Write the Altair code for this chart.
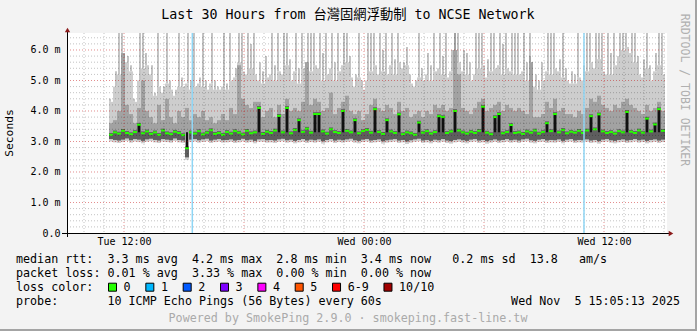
import altair as alt
import pandas as pd

FONT = "DejaVu Sans Mono"
FONT_CJK = "DejaVu Sans Mono, Noto Sans CJK TC"
NB = "\u00a0"

# ---- time axis (hours since Tue 00:00) ----
x_start, x_end = 9.15, 39.15
bin_start = 11.25
bin_step = 0.2

# ---- per-bin smoke values (ms) ----
med_ms = [3.22, 3.30, 3.26, 3.35, 3.28, 3.24, 3.31, 3.55, 3.27, 3.33,
          3.25, 3.30, 3.22, 3.36, 3.27, 3.24, 3.32, 3.28, 3.21, 2.78,
          3.30, 3.26, 3.34, 3.23, 3.29, 3.37, 3.25, 3.28, 3.22, 3.31,
          3.26, 3.34, 3.29, 3.23, 3.35, 3.27, 3.30, 4.10, 3.25, 3.32,
          3.28, 3.36, 3.84, 3.30, 4.10, 3.27, 3.38, 3.70, 3.31, 3.42,
          3.29, 3.90, 3.90, 3.33, 3.26, 3.40, 3.31, 3.28, 4.00, 3.35,
          3.30, 3.70, 3.27, 3.34, 3.38, 3.29, 4.06, 3.31, 3.25, 3.70,
          3.33, 3.28, 3.89, 3.24, 3.30, 3.27, 3.22, 3.62, 3.29, 3.34,
          3.26, 3.31, 3.83, 3.80, 3.28, 3.33, 4.00, 3.36, 3.30, 3.26,
          3.32, 3.28, 3.35, 4.14, 3.29, 3.24, 3.80, 3.90, 3.27, 3.31,
          3.54, 3.28, 3.30, 3.25, 3.33, 3.29, 3.36, 3.26, 3.31, 3.60,
          3.34, 3.90, 3.30, 3.38, 3.27, 3.32, 3.29, 3.35, 3.28, 3.36,
          3.83, 3.40, 3.89, 3.33, 3.28, 3.31, 3.26, 3.34, 3.30, 3.97,
          3.32, 3.28, 3.36, 3.29, 3.75, 3.33, 3.56, 4.06, 3.35]

lo_ms = [3.00, 2.97, 2.95, 2.98, 3.02, 2.96, 3.00, 2.98, 2.94, 2.99,
         3.01, 2.97, 2.95, 3.00, 2.98, 2.96, 3.02, 2.97, 2.95, 2.40,
         2.98, 3.00, 2.96, 2.99, 3.01, 2.95, 2.98, 3.00, 2.96, 2.97,
         2.99, 2.95, 2.97, 3.01, 2.96, 2.98, 2.94, 2.99, 3.00, 2.96,
         2.97, 2.95, 2.99, 3.01, 2.96, 2.98, 2.94, 2.97, 3.00, 2.95,
         2.98, 2.96, 2.99, 2.93, 2.97, 3.00, 2.95, 2.98, 2.96, 2.99,
         3.01, 2.96, 2.94, 2.98, 3.00, 2.95, 2.97, 2.99, 2.93, 2.96,
         2.98, 3.00, 2.95, 2.97, 2.92, 2.96, 2.99, 3.01, 2.95, 2.97,
         2.94, 2.98, 2.96, 3.00, 2.95, 2.93, 2.97, 2.99, 2.96, 2.94,
         2.98, 3.00, 2.95, 2.97, 2.93, 2.96, 2.99, 2.95, 2.97, 3.00,
         2.96, 2.98, 2.95, 2.99, 3.01, 2.96, 2.94, 2.98, 3.00, 2.95,
         2.97, 2.96, 2.99, 2.94, 2.98, 3.00, 2.95, 2.97, 2.96, 2.99,
         2.95, 2.97, 2.93, 2.98, 3.00, 2.96, 2.94, 2.97, 2.99, 2.95,
         2.97, 3.00, 2.96, 2.98, 2.94, 2.97, 2.99, 2.95, 2.98]

mid_ms = [3.6, 3.7, 4.0, 5.9, 4.2, 3.9, 3.6, 4.1, 5.0, 4.0,
          3.8, 3.6, 4.2, 3.7, 4.4, 3.8, 3.6, 4.0, 3.8, 4.1,
          3.7, 3.9, 3.8, 4.0, 3.7, 3.8, 3.6, 3.7, 3.9, 3.7,
          4.1, 3.9, 5.5, 4.4, 4.2, 4.1, 4.3, 4.3, 3.8, 4.0,
          4.1, 3.8, 4.2, 3.9, 4.4, 4.0, 4.1, 4.0, 4.3, 5.6,
          4.2, 4.4, 4.3, 4.0, 4.1, 4.6, 3.9, 4.1, 4.3, 4.5,
          4.0, 3.9, 4.0, 3.7, 3.9, 4.2, 4.4, 4.1, 4.0, 4.2,
          4.1, 3.9, 4.3, 4.0, 4.1, 3.8, 3.9, 4.0, 3.8, 4.0,
          3.9, 4.2, 4.1, 4.2, 4.0, 4.1, 6.6, 5.2, 4.1, 4.0,
          3.9, 4.1, 4.3, 4.4, 4.0, 4.1, 4.2, 4.3, 4.0, 4.2,
          4.1, 4.0, 4.1, 4.0, 3.9, 5.8, 3.8, 3.8, 3.9, 4.3,
          4.1, 4.4, 4.0, 4.1, 3.9, 3.9, 3.8, 4.0, 3.9, 4.1,
          4.4, 4.3, 4.5, 4.2, 4.1, 4.0, 4.2, 4.1, 4.3, 4.4,
          4.2, 4.1, 4.0, 3.9, 4.2, 4.0, 4.1, 4.3, 4.0]

body_ms = [4.3, 4.8, 5.2, 5.9, 5.6, 5.3, 4.3, 5.0, 5.4, 5.5,
           5.2, 4.5, 4.8, 4.6, 4.9, 4.7, 4.5, 4.8, 4.8, 4.9,
           4.7, 4.8, 4.9, 4.8, 4.7, 4.9, 4.7, 4.7, 4.8, 4.7,
           5.0, 5.1, 5.6, 5.3, 5.2, 5.4, 5.2, 5.0, 4.9, 5.1,
           5.2, 5.0, 5.3, 5.2, 5.5, 5.0, 5.3, 4.9, 5.4, 5.6,
           5.3, 5.5, 5.4, 5.0, 5.2, 5.4, 5.0, 5.3, 5.5, 5.6,
           5.1, 4.8, 5.1, 4.7, 5.0, 5.3, 5.5, 5.2, 5.3, 5.2,
           5.5, 5.2, 5.6, 5.4, 5.5, 4.9, 4.8, 5.1, 5.0, 5.2,
           5.0, 5.3, 5.4, 5.2, 5.1, 5.3, 6.0, 5.6, 5.3, 5.2,
           5.0, 5.2, 5.4, 5.5, 5.1, 5.3, 5.4, 5.5, 5.2, 5.4,
           5.3, 5.2, 5.2, 5.3, 5.0, 5.6, 4.8, 4.7, 5.0, 5.3,
           5.2, 5.4, 5.3, 5.1, 5.0, 4.9, 4.9, 5.1, 5.0, 5.3,
           5.6, 5.4, 5.7, 5.3, 5.2, 5.2, 5.5, 5.8, 6.0, 6.1,
           5.9, 5.6, 5.2, 5.1, 5.4, 5.0, 5.3, 5.5, 5.2]

top_ms = [4.4, 5.3, 6.6, 6.6, 5.8, 5.5, 4.4, 6.6, 6.6, 5.9,
          5.5, 4.6, 6.6, 4.8, 6.6, 5.0, 4.7, 6.6, 5.1, 6.6,
          5.0, 6.6, 5.1, 6.6, 5.0, 6.6, 5.0, 4.8, 6.6, 4.9,
          6.6, 5.4, 6.6, 6.6, 6.6, 6.2, 6.6, 5.6, 5.3, 5.8,
          6.6, 5.5, 6.6, 6.6, 6.6, 5.7, 6.6, 5.4, 6.6, 6.6,
          6.6, 6.6, 6.6, 5.9, 6.6, 6.6, 5.6, 6.6, 6.6, 6.6,
          5.8, 5.2, 6.6, 5.0, 6.6, 6.6, 6.6, 6.6, 6.0, 6.6,
          6.6, 5.7, 6.6, 5.6, 6.1, 5.2, 5.0, 6.6, 5.4, 5.9,
          5.5, 6.6, 6.6, 5.8, 6.6, 6.0, 6.6, 6.6, 6.0, 5.9,
          5.6, 6.6, 6.6, 6.6, 5.7, 6.6, 6.6, 6.6, 6.2, 6.6,
          6.6, 6.6, 6.6, 6.6, 5.6, 6.6, 5.2, 5.0, 5.6, 6.6,
          6.6, 6.6, 5.7, 6.6, 5.4, 5.3, 5.2, 6.6, 5.5, 6.6,
          6.6, 6.6, 6.6, 6.6, 6.6, 5.9, 6.6, 6.6, 6.6, 6.6,
          6.6, 6.6, 5.8, 5.7, 6.6, 5.5, 5.9, 6.6, 6.6]

loss_line_hours = [15.415, 35.0]

# ---- axis / grid ticks ----
label_hours = [12, 24, 36]
major_hours = [12, 18, 24, 30, 36]
minor_hours = [h for h in range(10, 40) if h % 6 != 0]
y_labels = [0, 1, 2, 3, 4, 5, 6]
major_y = [1, 2, 3, 4, 5, 6]
minor_y = [round(0.2 * i, 1) for i in range(1, 33) if i % 5 != 0]

# ---- legend texts ----
title_txt = "Last 30 Hours from 台灣固網浮動制 to NCSE Network"
line_rtt = "median rtt:  3.3 ms avg  4.2 ms max  2.8 ms min  3.4 ms now   0.2 ms sd  13.8   am/s"
line_loss = "packet loss: 0.01 % avg  3.33 % max  0.00 % min  0.00 % now"
line_color = "loss color:"
line_probe = "probe:       10 ICMP Echo Pings (56 Bytes) every 60s"
date_txt = "Wed Nov  5 15:05:13 2025"
footer_txt = "Powered by SmokePing 2.9.0 · smokeping.fast-line.tw"
side_txt = "RRDTOOL / TOBI OETIKER"
loss_labels = ["0", "1", "2", "3", "4", "5", "6-9", "10/10"]
loss_colors = ["#26ff00", "#00b8ff", "#0059ff", "#7e00ff", "#ff00ff", "#ff5500", "#ff0000", "#a10000"]

W, H = 600, 200

n = len(med_ms)
df = pd.DataFrame({
    "t0": [bin_start + bin_step * i for i in range(n)],
    "med": med_ms, "lo": lo_ms, "mid": mid_ms, "body": body_ms, "top": top_ms,
})
df["t1"] = df["t0"] + bin_step
# thin spike columns inside each bin, staggered so they do not form a regular comb
spike_off = [0.0, 0.1, 0.05]
df["s0"] = [t + spike_off[i % 3] for i, t in enumerate(df["t0"])]
df["s1"] = df["s0"] + 0.1
df["b0"] = df["t0"] + 0.05
df["b1"] = df["t0"] + 0.15
df["midf"] = df[["mid", "body"]].min(axis=1)
df["core_lo"] = df["lo"] + 0.08
df["core_hi"] = df["med"] + 0.06

xs = alt.Scale(domain=[x_start, x_end], nice=False, zero=False)
ys = alt.Scale(domain=[0, 6.557], nice=False, zero=False, clamp=True)

x_axis = alt.Axis(values=label_hours,
                  labelExpr="datum.value == 12 ? 'Tue 12:00' : (datum.value == 24 ? 'Wed 00:00' : 'Wed 12:00')",
                  grid=False, ticks=False, domain=False, labelFont=FONT, labelFontSize=10,
                  labelColor="black", labelPadding=3, labelOverlap=False, labelFlush=False, title=None)
y_axis = alt.Axis(values=y_labels,
                  labelExpr="datum.value == 0 ? '0.0" + NB + NB + "' : format(datum.value, '.1f') + ' m'",
                  grid=False, ticks=False, domain=False, labelFont=FONT, labelFontSize=10,
                  labelColor="black", labelPadding=7, labelOverlap=False, title=None)


def X(f):
    return alt.X(f + ":Q", scale=xs, axis=x_axis)


def Y(f):
    return alt.Y(f + ":Q", scale=ys, axis=y_axis)


base = alt.Chart(df)
light = base.mark_rect(color="#cdcdcd", clip=True).encode(x=X("t0"), x2="t1", y=Y("lo"), y2="body")
spikes = base.mark_rect(color="#c4c4c4", clip=True).encode(x=X("s0"), x2="s1", y=Y("body"), y2="top")
midl = base.mark_rect(color="#a2a2a2", clip=True).encode(x=X("t0"), x2="t1", y=Y("med"), y2="midf")
mid_sp = base.transform_filter("datum.mid > datum.body").mark_rect(color="#a2a2a2", clip=True).encode(
    x=X("s0"), x2="s1", y=Y("body"), y2="mid")
dark = base.mark_rect(color="#5e5e5e", clip=True).encode(x=X("t0"), x2="t1", y=Y("core_lo"), y2="core_hi")
black = base.transform_filter("datum.med > 3.5 || datum.med < 3.0").mark_rect(
    color="#111111", clip=True).encode(x=X("b0"), x2="b1", y=Y("med"), y2=alt.datum(3.3))
green = base.mark_rule(color="#26ff00", strokeWidth=2).encode(x=X("t0"), x2="t1", y=Y("med"))


def vrules(vals, color, op):
    return alt.Chart(pd.DataFrame({"h": vals})).mark_rule(
        color=color, opacity=op, strokeDash=[1, 2], strokeWidth=1).encode(
        x=X("h"), y=alt.value(0), y2=alt.value(H))


def hrules(vals, color, op):
    return alt.Chart(pd.DataFrame({"v": vals})).mark_rule(
        color=color, opacity=op, strokeDash=[1, 2], strokeWidth=1).encode(
        y=Y("v"), x=alt.value(0), x2=alt.value(W))


grid = [vrules(minor_hours, "#000000", 0.24), hrules(minor_y, "#000000", 0.24),
        vrules(major_hours, "#c00000", 0.45), hrules(major_y, "#c00000", 0.45)]

loss_lines = alt.Chart(pd.DataFrame({"h": loss_line_hours})).mark_rule(
    color="#8fd6f5", strokeWidth=1.5).encode(x=X("h"), y=alt.value(0), y2=alt.value(H))

one = alt.Data(values=[{"a": 1}])
axis_lines = [
    alt.Chart(one).mark_rule(color="black", strokeWidth=1).encode(
        x=alt.value(-5), x2=alt.value(602), y=alt.value(H + 0.5)),
    alt.Chart(one).mark_rule(color="black", strokeWidth=1).encode(
        x=alt.value(0.5), y=alt.value(H + 4), y2=alt.value(-2)),
    alt.Chart(one).mark_point(shape="triangle-right", filled=True, color="#8b1a1a", size=28, opacity=1).encode(
        x=alt.value(604), y=alt.value(H + 0.5)),
    alt.Chart(one).mark_point(shape="triangle-up", filled=True, color="#8b1a1a", size=28, opacity=1).encode(
        x=alt.value(0.5), y=alt.value(-3)),
]


def text(s, x, y, size=11.7, align="left", color="black", angle=0, font=FONT):
    return alt.Chart(one).mark_text(
        text=s.replace(" ", NB), font=font, fontSize=size, align=align,
        baseline="middle", color=color, angle=angle).encode(x=alt.value(x), y=alt.value(y))


ox, oy = 67, 33  # plot origin inside the page
texts = [
    text(title_txt, 348 - ox, 15 - oy, size=13.3, align="center", font=FONT_CJK),
    text("Seconds", 10 - ox, 133 - oy, size=11.3, align="center", angle=270),
    text(side_txt, 684 - ox, 90 - oy, size=11.5, align="center", color="#b0b0b0", angle=90),
    text(line_rtt, 16 - ox, 259.3 - oy),
    text(line_loss, 16 - ox, 273.3 - oy),
    text(line_color, 16 - ox, 287.3 - oy),
    text(line_probe, 16 - ox, 301 - oy),
    text(date_txt, 680 - ox, 301 - oy, align="right"),
    text(footer_txt, 348 - ox, 317.7 - oy, align="center", color="#aaaaaa"),
]

# loss colour legend boxes
CH = 7.04
legend = []
bx = 108.0
for lab, col in zip(loss_labels, loss_colors):
    legend.append(alt.Chart(one).mark_rect(color=col, stroke="black", strokeWidth=1).encode(
        x=alt.value(bx - ox + 0.5), x2=alt.value(bx - ox + 8.5), y=alt.value(283.2 - oy), y2=alt.value(291.2 - oy)))
    legend.append(text(lab, bx + 15.6 - ox, 287.3 - oy))
    bx += 15.6 + CH * len(lab) + 14.7

frame = [
    alt.Chart(one).mark_rect(color="#a4a4a4").encode(
        x=alt.value(695 - ox), x2=alt.value(697 - ox), y=alt.value(-oy), y2=alt.value(331 - oy)),
    alt.Chart(one).mark_rect(color="#a4a4a4").encode(
        x=alt.value(-ox), x2=alt.value(697 - ox), y=alt.value(329 - oy), y2=alt.value(331 - oy)),
]

chart = alt.layer(
    light, spikes, midl, mid_sp, dark, black, green, *grid, loss_lines, *axis_lines, *texts, *legend, *frame
).properties(
    width=W, height=H,
    autosize=alt.AutoSizeParams(type="none"),
    padding={"left": ox, "top": oy, "right": 697 - ox - W, "bottom": 331 - oy - H},
    background="#f3f3f3",
).configure_view(fill="white", stroke=None)

chart.save("out.html", embed_options={"renderer": "svg", "actions": False})
